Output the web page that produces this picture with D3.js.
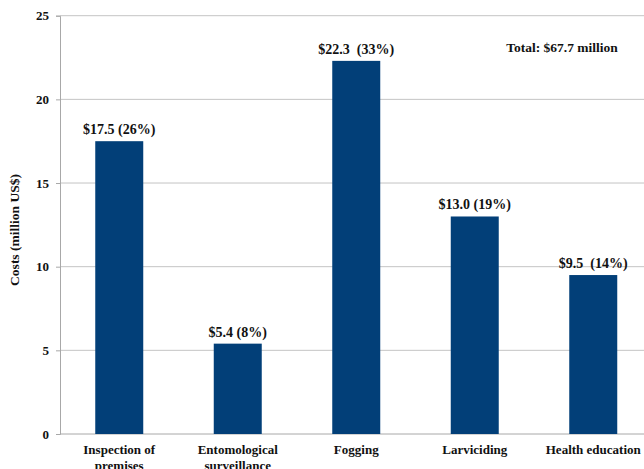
<!DOCTYPE html>
<html><head><meta charset="utf-8">
<script src="https://cdn.jsdelivr.net/npm/d3@7"></script>
<style>
html,body{margin:0;padding:0;background:#fff;}
</style></head>
<body><svg id="c" width="644" height="469"></svg>
<script>
const categories = [["Inspection of","premises"],["Entomological","surveillance"],["Fogging"],["Larviciding"],["Health education"]];
const costs = [17.5, 5.4, 22.3, 13.0, 9.5];
const barLabels = ["$17.5 (26%)", "$5.4 (8%)", "$22.3  (33%)", "$13.0 (19%)", "$9.5  (14%)"];
const yTicks = [0, 5, 10, 15, 20, 25];
const totalLabel = "Total: $67.7 million";
const yTitle = "Costs (million US$)";

const FONT = "'Liberation Serif', 'Times New Roman', Tinos, 'DejaVu Serif', serif";
const svg = d3.select("#c").attr("font-family", FONT).attr("font-weight", "bold");
const pLeft = 60, pRight = 652.5, pTop = 15.7, pBottom = 434;
const x = d3.scaleBand().domain(d3.range(costs.length)).range([pLeft, pRight]).paddingInner(0.595).paddingOuter(0.2975);
const y = d3.scaleLinear().domain([0, 25]).range([pBottom, pTop]);

// gridlines
svg.append("g").selectAll("line").data(yTicks.filter(d => d > 0)).join("line")
  .attr("x1", pLeft).attr("x2", 644).attr("y1", d => y(d)).attr("y2", d => y(d))
  .attr("stroke", "#c4c4c4").attr("stroke-width", 1);

// y axis
const yAxis = d3.axisLeft(y).tickValues(yTicks).tickSize(4).tickPadding(7).tickFormat(d3.format("d"));
const ga = svg.append("g").attr("transform", `translate(${pLeft},0)`).call(yAxis)
  .attr("font-family", FONT).attr("font-size", 13);
ga.select(".domain").attr("stroke", "#a8a8a8");
ga.selectAll(".tick line").attr("stroke", "#a8a8a8");
ga.selectAll(".tick text").attr("fill", "#111").attr("font-weight", "bold");

// x axis baseline
svg.append("line").attr("x1", pLeft).attr("x2", 644).attr("y1", pBottom).attr("y2", pBottom)
  .attr("stroke", "#a8a8a8");

// bars
svg.append("g").selectAll("rect").data(costs).join("rect")
  .attr("x", (d, i) => x(i)).attr("width", x.bandwidth())
  .attr("y", d => y(d)).attr("height", d => y(0) - y(d))
  .attr("fill", "#023f78");

// bar labels
svg.append("g").selectAll("text").data(costs).join("text")
  .attr("x", (d, i) => x(i) + x.bandwidth() / 2).attr("y", d => y(d) - 7)
  .attr("text-anchor", "middle").attr("font-size", 14).attr("fill", "#111")
  .style("white-space", "pre").text((d, i) => barLabels[i]);

// category labels
const cl = svg.append("g").selectAll("text").data(categories).join("text")
  .attr("text-anchor", "middle").attr("font-size", 13).attr("fill", "#111")
  .attr("x", (d, i) => x(i) + x.bandwidth() / 2).attr("y", 454);
cl.selectAll("tspan").data(d => d).join("tspan")
  .attr("x", function() { return d3.select(this.parentNode).attr("x"); })
  .attr("dy", (d, j) => j === 0 ? 0 : 16).text(d => d);

// total
svg.append("text").attr("x", 562).attr("y", 52).attr("text-anchor", "middle")
  .attr("font-size", 13.5).attr("fill", "#111").text(totalLabel);

// y title
svg.append("text").attr("transform", `translate(19,230) rotate(-90)`)
  .attr("text-anchor", "middle").attr("font-size", 13.5).attr("fill", "#111").text(yTitle);
</script></body></html>
